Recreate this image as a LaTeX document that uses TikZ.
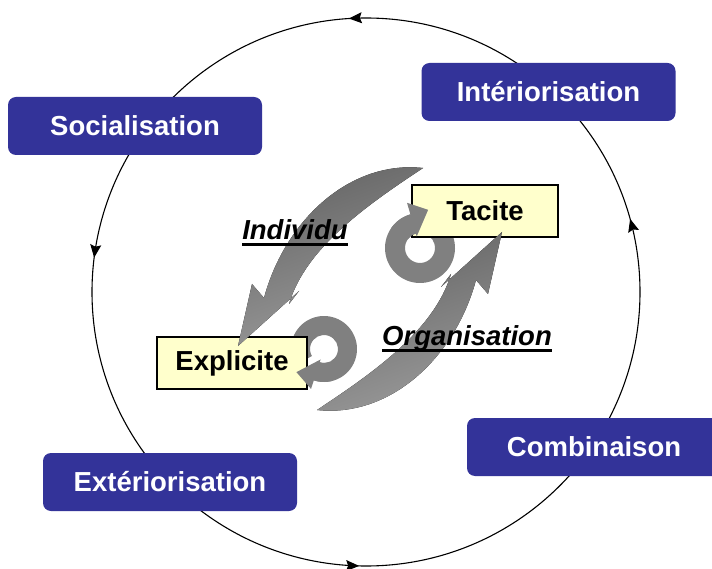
\documentclass[tikz,border=0pt]{standalone}
\usepackage{fontspec}
\setmainfont{Liberation Sans}
\usetikzlibrary{calc,arrows.meta,decorations.markings}
\definecolor{boxblue}{HTML}{333399}
\definecolor{paleyellow}{HTML}{FFFFCC}
\definecolor{ringgray}{HTML}{808080}
\definecolor{darkgray}{HTML}{636363}
\definecolor{lightgray}{HTML}{9C9C9C}
\tikzset{cyctip/.tip={Stealth[length=13pt,width=11pt,inset=2pt]}}
\begin{document}
\begin{tikzpicture}[x=1pt,y=-1pt,
  phase/.style={fill=boxblue, rounded corners=8pt, minimum width=254pt, minimum height=58pt,
    text=white, font=\bfseries\fontsize{27.5}{30}\selectfont, inner sep=0pt},
  kind/.style={fill=paleyellow, draw=black, line width=1.2pt, minimum height=52pt,
    font=\bfseries\fontsize{27.5}{30}\selectfont, inner sep=0pt},
  level/.style={font=\bfseries\itshape\fontsize{27.5}{30}\selectfont, inner sep=0pt, anchor=base},
  ringfill/.style={fill=ringgray},
  crescent/.style={top color=darkgray, bottom color=lightgray, shading angle=20},
  uline/.style={line width=3pt},
]
\useasboundingbox (0,0) rectangle (712,569);
\clip (0,0) rectangle (712,569);

% outer cycle
\draw[line width=1.1pt, postaction={decorate}, decoration={markings,
  mark=at position 0.254 with {\arrowreversed{cyctip}},
  mark=at position 0.520 with {\arrowreversed{cyctip}},
  mark=at position 0.740 with {\arrowreversed{cyctip}},
  mark=at position 0.957 with {\arrowreversed{cyctip}}}]
  (366,292) circle[radius=274];

% phase boxes
\node[phase] (soc) at (135,126) {Socialisation};
\node[phase] (int) at (548.5,92) {Intériorisation};
\node[phase] (comb) at (594,447) {Combinaison};
\node[phase] (ext) at (170,482) {Extériorisation};

% circular arrows: bodies (tails pass under the boxes)
\coordinate (c1) at (420,248);
\fill[ringfill] ($(c1)+(-50:35)$) arc[start angle=-50, end angle=254, radius=35]
  -- ($(c1)+(254:15)$) arc[start angle=254, end angle=-50, radius=15] -- cycle;
\coordinate (c2) at (324,349);
\fill[ringfill] ($(c2)+(150:33)$) arc[start angle=150, end angle=468, radius=33]
  -- ($(c2)+(468:14)$) arc[start angle=468, end angle=150, radius=14] -- cycle;

% knowledge boxes
\node[kind, minimum width=146pt] (tac) at (485,211) {Tacite};
\node[kind, minimum width=150pt] (exp) at (232,363) {Explicite};

% circular arrows: heads (over the boxes)
\fill[ringfill] ($(c1)+(215:35)$) arc[start angle=215, end angle=254, radius=35]
  -- ($(c1)+(254:47)$) -- ($(c1)+(282:39)$) -- ($(c1)+(254:12)$) -- ($(c1)+(254:15)$)
  arc[start angle=254, end angle=215, radius=15] -- cycle;
\fill[ringfill] ($(c2)+(75:33)$) arc[start angle=75, end angle=108, radius=33]
  -- ($(c2)+(108:42)$) -- ($(c2)+(140:36)$) -- ($(c2)+(108:11)$) -- ($(c2)+(108:14)$)
  arc[start angle=108, end angle=75, radius=14] -- cycle;

% big crescent arrows
\fill[crescent]
  (423,168) .. controls (350,160) and (285,220) .. (264,298)
  -- (252,284) -- (238,346) -- (299,291) -- (289,304)
  .. controls (306,246) and (372,202) .. (423,168) -- cycle;
\begin{scope}[rotate around={180:(370,289)}]
\fill[crescent]
  (423,168) .. controls (350,160) and (285,220) .. (264,298)
  -- (252,284) -- (238,346) -- (299,291) -- (289,304)
  .. controls (306,246) and (372,202) .. (423,168) -- cycle;
\end{scope}

% level labels
\node[level] (ind) at (295,240) {Individu};
\draw[uline] ($(ind.base west)+(0,5)$) -- ($(ind.base east)+(0,5)$);
\node[level] (org) at (467,345) {Organisation};
\draw[uline] ($(org.base west)+(0,5)$) -- ($(org.base east)+(0,5)$);
\end{tikzpicture}
\end{document}
